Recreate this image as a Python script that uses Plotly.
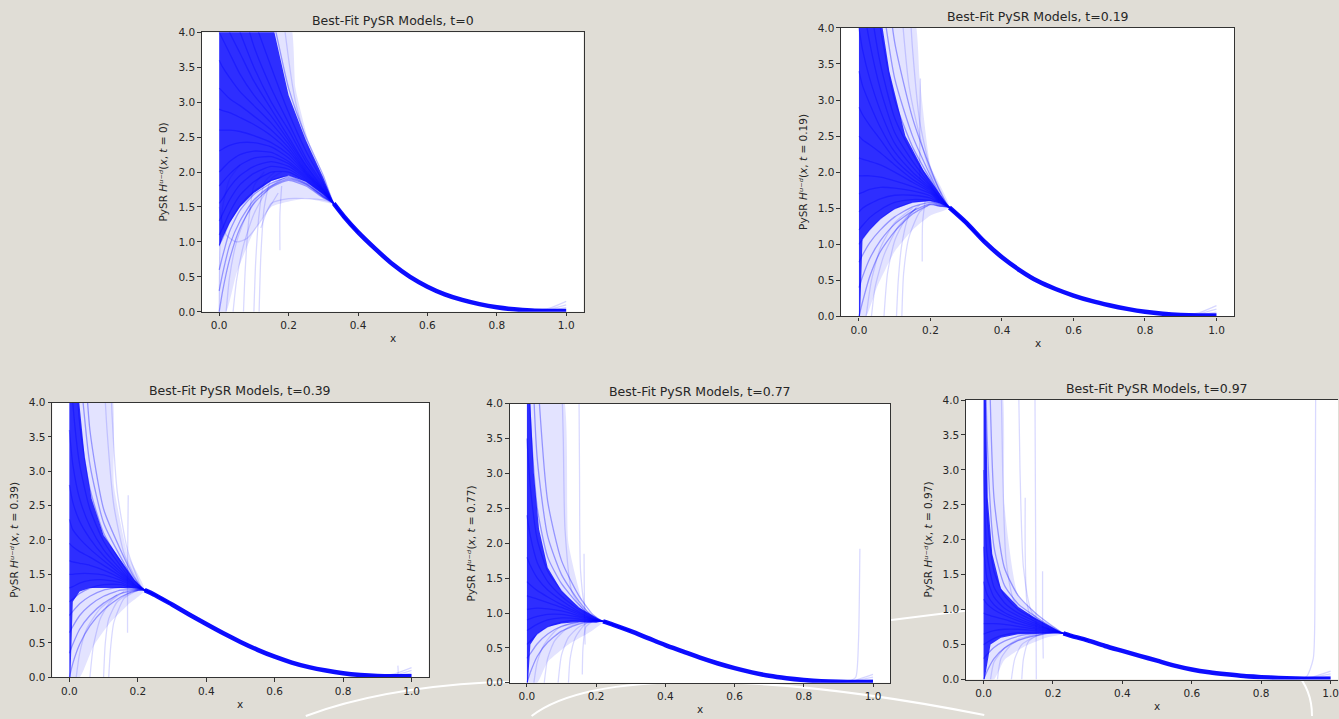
import plotly.graph_objects as go

# ---------------------------------------------------------------- data
T_VALUES = ["0", "0.19", "0.39", "0.77", "0.97"]
X_TICKS = [0.0, 0.2, 0.4, 0.6, 0.8, 1.0]
X_TICK_TEXT = ["0.0", "0.2", "0.4", "0.6", "0.8", "1.0"]
Y_TICKS = [0.0, 0.5, 1.0, 1.5, 2.0, 2.5, 3.0, 3.5, 4.0]
Y_TICK_TEXT = ["0.0", "0.5", "1.0", "1.5", "2.0", "2.5", "3.0", "3.5", "4.0"]

# ---- panel 1 : t = 0
P1_TAIL_X = [0.33, 0.36, 0.4, 0.45, 0.5, 0.55, 0.6, 0.65, 0.7, 0.75, 0.8, 0.85, 0.9, 0.95, 1.0]
P1_TAIL_Y = [1.55, 1.36, 1.14, 0.90, 0.68, 0.50, 0.36, 0.25, 0.17, 0.11, 0.065, 0.035, 0.018, 0.012, 0.012]
P1_FAN_X = [0, 0.01, 0.03, 0.06, 0.1, 0.15, 0.2, 0.25, 0.3]
P1_FAN_Y = [
    [8, 7.5, 7, 6.2, 5.2, 4.3, 3.2, 2.5, 1.95],
    [7, 6.6, 6, 5, 4.2, 3.5, 2.85, 2.3, 1.85],
    [6, 5.6, 5.1, 4.5, 3.8, 3.2, 2.7, 2.2, 1.82],
    [5, 4.7, 4.4, 4.0, 3.5, 3.0, 2.6, 2.15, 1.8],
    [4.5, 4.3, 4.0, 3.7, 3.3, 2.9, 2.5, 2.1, 1.78],
    [4.0, 3.9, 3.7, 3.4, 3.1, 2.8, 2.45, 2.08, 1.76],
    [3.6, 3.5, 3.35, 3.15, 2.95, 2.7, 2.4, 2.05, 1.75],
    [3.2, 3.15, 3.05, 2.95, 2.8, 2.6, 2.35, 2.02, 1.74],
    [2.9, 2.88, 2.85, 2.78, 2.68, 2.52, 2.3, 2.0, 1.73],
    [2.6, 2.6, 2.6, 2.58, 2.52, 2.42, 2.25, 1.98, 1.72],
    [2.3, 2.33, 2.38, 2.42, 2.42, 2.36, 2.2, 1.96, 1.71],
    [2.0, 2.05, 2.15, 2.25, 2.3, 2.28, 2.15, 1.94, 1.7],
    [1.8, 1.86, 1.97, 2.1, 2.2, 2.22, 2.12, 1.92, 1.69],
    [1.55, 1.62, 1.78, 1.95, 2.08, 2.15, 2.08, 1.9, 1.68],
    [1.3, 1.4, 1.6, 1.82, 1.98, 2.08, 2.04, 1.88, 1.67],
    [1.1, 1.2, 1.42, 1.67, 1.86, 2.0, 2.0, 1.86, 1.66],
    [0.95, 1.05, 1.28, 1.52, 1.72, 1.88, 1.94, 1.84, 1.65],
    [0.6, 0.8, 1.15, 1.45, 1.68, 1.84, 1.92, 1.83, 1.65],
    [0.3, 0.55, 0.95, 1.3, 1.6, 1.8, 1.9, 1.82, 1.64],
    [0.0, 0.3, 0.75, 1.2, 1.55, 1.78, 1.88, 1.8, 1.63],
]
P1_CORE_X = [0, 0.15, 0.2, 0.25, 0.3, 0.33, 0.3, 0.25, 0.2, 0.15, 0.1, 0.06, 0.03, 0.01, 0]
P1_CORE_Y = [4.2, 4.2, 3.1, 2.45, 1.92, 1.55, 1.68, 1.86, 1.95, 1.87, 1.7, 1.5, 1.27, 1.06, 0.93]
P1_WASH_X = [0, 0.2, 0.22, 0.26, 0.3, 0.33, 0.25, 0.15, 0.1, 0.05, 0.02, 0]
P1_WASH_Y = [4.2, 4.2, 3.2, 2.4, 1.9, 1.55, 1.62, 1.5, 1.15, 0.55, 0, 0]
P1_FAINT_X = [
    [0.07, 0.075, 0.085, 0.1, 0.13],
    [0.1, 0.105, 0.115, 0.13, 0.16],
    [0.115, 0.12, 0.13, 0.15, 0.18],
    [0.175, 0.175, 0.18],
    [0.12, 0.15, 0.2, 0.25, 0.3, 0.33],
    [0.0, 0.02, 0.05, 0.08, 0.12, 0.17],
    [0.17, 0.19, 0.22, 0.26, 0.3, 0.33],
    [0.02, 0.03, 0.05, 0.08, 0.12, 0.18],
    [0.04, 0.05, 0.07, 0.1, 0.14, 0.2],
    [0.0, 0.002, 0.01, 0.03, 0.06],
]
P1_FAINT_Y = [
    [0, 0.6, 1.3, 1.8, 2.0],
    [0, 0.7, 1.4, 1.85, 2.0],
    [0, 0.8, 1.5, 1.9, 2.0],
    [0.88, 1.4, 1.8],
    [1.2, 1.55, 1.62, 1.62, 1.6, 1.55],
    [1.5, 1.1, 1.0, 1.05, 1.3, 1.7],
    [5, 4, 3.0, 2.3, 1.85, 1.55],
    [0, 0.5, 1.0, 1.4, 1.7, 1.9],
    [0, 0.45, 0.95, 1.4, 1.75, 1.95],
    [0, 0.9, 1.5, 1.9, 2.1],
]
P1_END_X = [0.85, 0.9, 0.95, 1.0]
P1_END_Y = [[0.035, 0.02, 0.05, 0.15], [0.035, 0.02, 0.035, 0.1], [0.035, 0.02, 0.025, 0.06]]

# ---- panel 2 : t = 0.19
P2_TAIL_X = [0.253, 0.3, 0.35, 0.4, 0.45, 0.5, 0.55, 0.6, 0.65, 0.7, 0.75, 0.8, 0.85, 0.9, 0.95, 1.0]
P2_TAIL_Y = [1.51, 1.3, 1.04, 0.82, 0.64, 0.49, 0.38, 0.29, 0.215, 0.155, 0.105, 0.065, 0.037, 0.02, 0.013, 0.013]
P2_FAN_X = [0, 0.01, 0.03, 0.06, 0.1, 0.15, 0.2, 0.225]
P2_FAN_Y = [
    [9, 8.5, 7.5, 5.5, 3.8, 2.75, 2.05, 1.75],
    [8, 7.5, 6.5, 4.6, 3.3, 2.5, 1.95, 1.7],
    [7, 6.5, 5.2, 4.0, 3.0, 2.35, 1.9, 1.68],
    [6, 5.2, 4.4, 3.5, 2.75, 2.25, 1.85, 1.66],
    [4.8, 4.4, 3.8, 3.15, 2.55, 2.15, 1.82, 1.65],
    [4.0, 3.7, 3.3, 2.85, 2.4, 2.07, 1.8, 1.64],
    [3.4, 3.2, 2.95, 2.62, 2.28, 2.0, 1.78, 1.63],
    [2.9, 2.8, 2.65, 2.45, 2.18, 1.95, 1.76, 1.62],
    [2.5, 2.45, 2.38, 2.27, 2.1, 1.9, 1.74, 1.61],
    [2.2, 2.18, 2.15, 2.1, 2.0, 1.86, 1.72, 1.6],
    [1.95, 1.95, 1.95, 1.93, 1.88, 1.8, 1.7, 1.59],
    [1.7, 1.72, 1.76, 1.79, 1.78, 1.74, 1.67, 1.58],
    [1.45, 1.5, 1.56, 1.63, 1.68, 1.68, 1.64, 1.57],
    [1.2, 1.26, 1.37, 1.48, 1.58, 1.62, 1.61, 1.56],
    [1.0, 1.07, 1.2, 1.35, 1.49, 1.58, 1.6, 1.55],
    [0.75, 0.85, 1.02, 1.2, 1.38, 1.52, 1.58, 1.54],
    [0.4, 0.55, 0.8, 1.05, 1.28, 1.46, 1.56, 1.53],
    [0.0, 0.2, 0.55, 0.9, 1.18, 1.42, 1.55, 1.53],
]
P2_CORE_X = [0, 0.06, 0.085, 0.13, 0.18, 0.225, 0.253, 0.225, 0.2, 0.15, 0.1, 0.06, 0.03, 0.01, 0.003, 0]
P2_CORE_Y = [4.2, 4.2, 3.4, 2.5, 2.03, 1.71, 1.51, 1.57, 1.6, 1.58, 1.49, 1.35, 1.2, 1.07, 0.0, 0.0]
P2_WASH_X = [0, 0.15, 0.17, 0.2, 0.253, 0.2, 0.15, 0.1, 0.05, 0.02, 0]
P2_WASH_Y = [4.2, 4.2, 3.3, 2.1, 1.51, 1.4, 1.2, 0.9, 0.4, 0, 0]
P2_FAINT_X = [
    [0.07, 0.08, 0.1, 0.13, 0.16],
    [0.105, 0.11, 0.12, 0.14, 0.17],
    [0.12, 0.125, 0.14, 0.17, 0.2],
    [0.177, 0.178, 0.185],
    [0.17, 0.17, 0.172],
    [0.12, 0.14, 0.17, 0.2, 0.23],
    [0.14, 0.15, 0.17, 0.2, 0.25],
    [0.02, 0.035, 0.06, 0.1, 0.15],
    [0.035, 0.045, 0.07, 0.11, 0.16],
]
P2_FAINT_Y = [
    [0, 0.6, 1.05, 1.35, 1.5],
    [0, 0.5, 1.0, 1.4, 1.55],
    [0, 0.6, 1.1, 1.45, 1.56],
    [0.76, 1.3, 1.6],
    [1.9, 2.6, 3.3],
    [4.2, 3.2, 2.5, 2.0, 1.7],
    [4.5, 3.7, 2.7, 2.05, 1.51],
    [0, 0.5, 0.95, 1.3, 1.5],
    [0, 0.4, 0.85, 1.25, 1.5],
]
P2_END_X = [0.85, 0.9, 0.95, 1.0]
P2_END_Y = [[0.037, 0.02, 0.05, 0.15], [0.037, 0.02, 0.035, 0.1], [0.037, 0.02, 0.025, 0.06]]

# ---- panel 3 : t = 0.39
P3_TAIL_X = [0.22, 0.25, 0.3, 0.35, 0.4, 0.45, 0.5, 0.55, 0.6, 0.65, 0.7, 0.75, 0.8, 0.85, 0.9, 0.95, 1.0]
P3_TAIL_Y = [1.27, 1.2, 1.06, 0.915, 0.775, 0.64, 0.515, 0.4, 0.3, 0.215, 0.148, 0.098, 0.06, 0.035, 0.02, 0.015, 0.015]
P3_FAN_X = [0, 0.01, 0.03, 0.06, 0.1, 0.15, 0.19]
P3_FAN_Y = [
    [9, 8, 6, 3.6, 2.45, 1.85, 1.45],
    [8, 7, 4.6, 3.1, 2.25, 1.75, 1.42],
    [7, 5.5, 3.7, 2.75, 2.1, 1.68, 1.4],
    [5, 4.0, 3.1, 2.45, 1.98, 1.62, 1.38],
    [3.6, 3.1, 2.6, 2.2, 1.86, 1.57, 1.36],
    [2.8, 2.55, 2.27, 2.02, 1.77, 1.53, 1.35],
    [2.3, 2.15, 2.02, 1.87, 1.7, 1.5, 1.34],
    [1.95, 1.9, 1.83, 1.75, 1.63, 1.47, 1.33],
    [1.7, 1.68, 1.66, 1.63, 1.56, 1.44, 1.32],
    [1.5, 1.5, 1.51, 1.51, 1.49, 1.41, 1.31],
    [1.3, 1.32, 1.37, 1.41, 1.42, 1.38, 1.3],
    [1.1, 1.14, 1.22, 1.3, 1.35, 1.35, 1.29],
    [0.9, 0.96, 1.07, 1.18, 1.27, 1.31, 1.28],
    [0.65, 0.74, 0.9, 1.05, 1.18, 1.27, 1.27],
    [0.35, 0.48, 0.7, 0.9, 1.08, 1.22, 1.26],
    [0.0, 0.2, 0.48, 0.75, 0.98, 1.17, 1.25],
]
P3_CORE_X = [0, 0.025, 0.045, 0.065, 0.1, 0.15, 0.19, 0.22, 0.19, 0.15, 0.1, 0.06, 0.03, 0.01, 0.003, 0]
P3_CORE_Y = [4.2, 4.2, 3.2, 2.6, 2.07, 1.7, 1.42, 1.27, 1.3, 1.3, 1.3, 1.3, 1.25, 1.1, 0.0, 0.0]
P3_WASH_X = [0, 0.12, 0.13, 0.17, 0.22, 0.17, 0.12, 0.07, 0.03, 0]
P3_WASH_Y = [4.2, 4.2, 2.8, 1.8, 1.27, 1.05, 0.8, 0.45, 0, 0]
P3_FAINT_X = [
    [0.17, 0.17, 0.172],
    [0.06, 0.07, 0.09, 0.12, 0.16],
    [0.1, 0.105, 0.115, 0.14, 0.18],
    [0.115, 0.12, 0.13, 0.16, 0.2],
    [0.1, 0.11, 0.13, 0.16, 0.2],
    [0.12, 0.125, 0.14, 0.17, 0.21],
    [0.02, 0.03, 0.05, 0.09, 0.14],
    [0.95, 0.96, 0.96],
]
P3_FAINT_Y = [
    [0.65, 1.6, 2.65],
    [0, 0.45, 0.85, 1.1, 1.25],
    [0, 0.5, 0.85, 1.1, 1.24],
    [0, 0.4, 0.8, 1.15, 1.27],
    [4.5, 3.6, 2.5, 1.8, 1.38],
    [4.5, 3.8, 2.7, 1.85, 1.3],
    [0, 0.35, 0.7, 1.0, 1.2],
    [0.02, 0.05, 0.17],
]
P3_END_X = [0.85, 0.9, 0.95, 1.0]
P3_END_Y = [[0.035, 0.02, 0.05, 0.14], [0.035, 0.02, 0.03, 0.1], [0.035, 0.02, 0.02, 0.06]]

# ---- panel 4 : t = 0.77
P4_TAIL_X = [0.22, 0.25, 0.3, 0.35, 0.4, 0.45, 0.5, 0.55, 0.6, 0.65, 0.7, 0.75, 0.8, 0.85, 0.9, 0.95, 1.0]
P4_TAIL_Y = [0.88, 0.83, 0.74, 0.64, 0.54, 0.45, 0.36, 0.28, 0.21, 0.15, 0.1, 0.065, 0.04, 0.022, 0.014, 0.012, 0.012]
P4_FAN_X = [0, 0.01, 0.03, 0.06, 0.1, 0.15, 0.19]
P4_FAN_Y = [
    [9, 8, 4.5, 2.6, 1.75, 1.25, 0.98],
    [8, 5.5, 3.2, 2.1, 1.55, 1.17, 0.95],
    [6, 3.8, 2.5, 1.8, 1.42, 1.12, 0.94],
    [3.5, 2.8, 2.05, 1.6, 1.32, 1.08, 0.93],
    [2.4, 2.1, 1.72, 1.45, 1.24, 1.05, 0.92],
    [1.8, 1.68, 1.5, 1.33, 1.18, 1.02, 0.915],
    [1.45, 1.4, 1.32, 1.23, 1.12, 1.0, 0.91],
    [1.25, 1.23, 1.2, 1.15, 1.08, 0.98, 0.905],
    [1.05, 1.06, 1.07, 1.06, 1.03, 0.96, 0.9],
    [0.9, 0.92, 0.95, 0.98, 0.98, 0.94, 0.895],
    [0.75, 0.78, 0.84, 0.9, 0.93, 0.92, 0.89],
    [0.55, 0.6, 0.7, 0.8, 0.87, 0.9, 0.885],
    [0.35, 0.42, 0.56, 0.7, 0.81, 0.87, 0.88],
    [0.0, 0.15, 0.38, 0.58, 0.74, 0.84, 0.875],
]
P4_CORE_X = [0, 0.008, 0.02, 0.035, 0.06, 0.1, 0.15, 0.2, 0.22, 0.2, 0.15, 0.1, 0.06, 0.03, 0.01, 0.003, 0]
P4_CORE_Y = [4.2, 4.2, 3.0, 2.2, 1.65, 1.32, 1.08, 0.93, 0.88, 0.86, 0.87, 0.85, 0.8, 0.7, 0.55, 0.0, 0.0]
P4_WASH_X = [0, 0.1, 0.12, 0.17, 0.22, 0.18, 0.12, 0.06, 0.03, 0]
P4_WASH_Y = [4.2, 4.2, 2.0, 1.05, 0.88, 0.72, 0.55, 0.3, 0, 0]
P4_FAINT_X = [
    [0.1, 0.105, 0.11, 0.13, 0.17],
    [0.15, 0.152, 0.155, 0.17, 0.2],
    [0.165, 0.166, 0.168],
    [0.16, 0.162, 0.17, 0.19],
    [0.05, 0.06, 0.08, 0.12, 0.17],
    [0.09, 0.1, 0.12, 0.15, 0.19],
    [0.12, 0.125, 0.14, 0.17, 0.2],
    [0.02, 0.03, 0.05, 0.09, 0.15],
    [0.93, 0.95, 0.958, 0.962],
]
P4_FAINT_Y = [
    [4.5, 3.5, 2.2, 1.3, 1.0],
    [4.5, 3.0, 1.6, 1.05, 0.93],
    [1.85, 1.2, 0.55],
    [0.12, 0.5, 0.8, 0.88],
    [0, 0.35, 0.6, 0.8, 0.88],
    [0, 0.4, 0.65, 0.8, 0.88],
    [0, 0.35, 0.65, 0.85, 0.9],
    [0, 0.3, 0.55, 0.78, 0.87],
    [0.02, 0.08, 0.6, 1.92],
]
P4_END_X = [0.85, 0.9, 0.95, 1.0]
P4_END_Y = [[0.022, 0.014, 0.04, 0.12], [0.022, 0.014, 0.03, 0.08], [0.022, 0.014, 0.02, 0.05]]

# ---- panel 5 : t = 0.97
P5_TAIL_X = [0.23, 0.25, 0.3, 0.35, 0.4, 0.45, 0.5, 0.55, 0.6, 0.65, 0.7, 0.75, 0.8, 0.85, 0.9, 0.95, 1.0]
P5_TAIL_Y = [0.66, 0.63, 0.56, 0.48, 0.41, 0.34, 0.27, 0.2, 0.145, 0.105, 0.075, 0.05, 0.035, 0.022, 0.015, 0.012, 0.012]
P5_FAN_X = [0, 0.01, 0.03, 0.06, 0.1, 0.15, 0.2]
P5_FAN_Y = [
    [9, 6, 2.6, 1.6, 1.2, 0.95, 0.76],
    [8, 3.5, 1.9, 1.35, 1.08, 0.9, 0.74],
    [6, 2.4, 1.55, 1.2, 1.0, 0.86, 0.73],
    [3, 1.8, 1.32, 1.1, 0.95, 0.83, 0.72],
    [1.9, 1.45, 1.18, 1.02, 0.91, 0.8, 0.71],
    [1.4, 1.22, 1.07, 0.96, 0.87, 0.78, 0.705],
    [1.15, 1.08, 1.0, 0.92, 0.84, 0.76, 0.7],
    [0.95, 0.93, 0.9, 0.86, 0.8, 0.74, 0.695],
    [0.8, 0.8, 0.8, 0.79, 0.76, 0.72, 0.69],
    [0.65, 0.67, 0.7, 0.72, 0.72, 0.7, 0.685],
    [0.5, 0.53, 0.59, 0.64, 0.67, 0.68, 0.68],
    [0.3, 0.36, 0.46, 0.55, 0.62, 0.66, 0.675],
    [0.0, 0.12, 0.3, 0.45, 0.56, 0.63, 0.67],
]
P5_CORE_X = [0, 0.006, 0.012, 0.025, 0.05, 0.1, 0.15, 0.2, 0.23, 0.2, 0.15, 0.1, 0.05, 0.02, 0.003, 0]
P5_CORE_Y = [4.2, 4.2, 2.6, 1.8, 1.3, 1.04, 0.88, 0.74, 0.66, 0.66, 0.65, 0.65, 0.6, 0.5, 0.0, 0.0]
P5_WASH_X = [0, 0.05, 0.06, 0.1, 0.17, 0.23, 0.18, 0.12, 0.06, 0.03, 0]
P5_WASH_Y = [4.2, 4.2, 2.5, 1.2, 0.85, 0.66, 0.6, 0.48, 0.28, 0, 0]
P5_FAINT_X = [
    [0.148, 0.15, 0.152],
    [0.17, 0.17, 0.172],
    [0.12, 0.12, 0.125, 0.14, 0.19],
    [0.1, 0.105, 0.115, 0.14, 0.19],
    [0.05, 0.055, 0.065, 0.09, 0.15],
    [0.04, 0.05, 0.08, 0.12, 0.18],
    [0.08, 0.09, 0.11, 0.15, 0.2],
    [0.11, 0.115, 0.13, 0.17, 0.21],
    [0.02, 0.03, 0.06, 0.1, 0.16],
    [0.9, 0.93, 0.95, 0.955, 0.957],
]
P5_FAINT_Y = [
    [4.2, 2.0, 0.0],
    [1.55, 0.9, 0.3],
    [2.6, 1.8, 1.1, 0.85, 0.72],
    [4.5, 3.0, 1.6, 0.95, 0.73],
    [4.5, 3.0, 1.7, 1.1, 0.85],
    [0, 0.3, 0.5, 0.6, 0.67],
    [0, 0.3, 0.5, 0.62, 0.68],
    [0, 0.3, 0.55, 0.66, 0.67],
    [0, 0.25, 0.45, 0.58, 0.66],
    [0.015, 0.04, 0.3, 1.5, 4.2],
]
P5_END_X = [0.85, 0.9, 0.95, 1.0]
P5_END_Y = [[0.022, 0.015, 0.04, 0.12], [0.022, 0.015, 0.03, 0.08], [0.022, 0.015, 0.02, 0.05]]

# ---------------------------------------------------------------- layout (pixels)
W, H = 1339, 719
BG = "#e0ddd6"
TEXT = "#262626"
FONT = "DejaVu Sans"
BLUE = "0,0,255"

PANELS = [
    dict(data=(P1_FAN_X, P1_FAN_Y, P1_TAIL_X, P1_TAIL_Y, P1_CORE_X, P1_CORE_Y, P1_WASH_X, P1_WASH_Y,
               P1_FAINT_X, P1_FAINT_Y, P1_END_X, P1_END_Y),
         L=202, R=584, T=26.7, B=311, xr=[-0.05, 1.05], right=True),
    dict(data=(P2_FAN_X, P2_FAN_Y, P2_TAIL_X, P2_TAIL_Y, P2_CORE_X, P2_CORE_Y, P2_WASH_X, P2_WASH_Y,
               P2_FAINT_X, P2_FAINT_Y, P2_END_X, P2_END_Y),
         L=841.7, R=1235.3, T=22.3, B=315.7, xr=[-0.05, 1.05], right=True),
    dict(data=(P3_FAN_X, P3_FAN_Y, P3_TAIL_X, P3_TAIL_Y, P3_CORE_X, P3_CORE_Y, P3_WASH_X, P3_WASH_Y,
               P3_FAINT_X, P3_FAINT_Y, P3_END_X, P3_END_Y),
         L=52.3, R=429, T=403.3, B=682.7, xr=[-0.05, 1.05], right=True),
    dict(data=(P4_FAN_X, P4_FAN_Y, P4_TAIL_X, P4_TAIL_Y, P4_CORE_X, P4_CORE_Y, P4_WASH_X, P4_WASH_Y,
               P4_FAINT_X, P4_FAINT_Y, P4_END_X, P4_END_Y),
         L=510, R=891, T=404.3, B=688.3, xr=[-0.05, 1.05], right=True),
    dict(data=(P5_FAN_X, P5_FAN_Y, P5_TAIL_X, P5_TAIL_Y, P5_CORE_X, P5_CORE_Y, P5_WASH_X, P5_WASH_Y,
               P5_FAINT_X, P5_FAINT_Y, P5_END_X, P5_END_Y),
         L=966.7, R=1339, T=400.7, B=685, xr=[-0.0507, 1.0213], right=False),
]


def px(x):
    return x / W


def py(y):
    return 1 - y / H


fig = go.Figure()
annotations = []
layout_axes = {}

for i, p in enumerate(PANELS, start=1):
    (fan_x, fan_y, tail_x, tail_y, core_x, core_y, wash_x, wash_y,
     faint_x, faint_y, end_x, end_y) = p["data"]
    xa, ya = f"x{i}", f"y{i}"
    common = dict(xaxis=xa, yaxis=ya, mode="lines", hoverinfo="skip", showlegend=False)
    # light wash where only a few curves pass
    fig.add_trace(go.Scatter(x=wash_x, y=wash_y, fill="toself", fillcolor=f"rgba({BLUE},0.11)",
                             line=dict(width=0, shape="spline", smoothing=0.5), **common))
    # dense core of the overlapping curves
    fig.add_trace(go.Scatter(x=core_x, y=core_y, fill="toself", fillcolor=f"rgba({BLUE},0.8)",
                             line=dict(width=0), **common))
    # individual fitted curves
    for ys in fan_y:
        fig.add_trace(go.Scatter(x=fan_x + tail_x[:3], y=ys + tail_y[:3],
                                 line=dict(color=f"rgba({BLUE},0.35)", width=1.3, shape="spline", smoothing=0.6),
                                 **common))
    for fx, fy in zip(faint_x, faint_y):
        fig.add_trace(go.Scatter(x=fx, y=fy,
                                 line=dict(color=f"rgba({BLUE},0.15)", width=1.3, shape="spline", smoothing=0.6),
                                 **common))
    for ey in end_y:
        fig.add_trace(go.Scatter(x=end_x, y=ey,
                                 line=dict(color=f"rgba({BLUE},0.16)", width=1.3, shape="spline", smoothing=0.6),
                                 **common))
    # converged bundle
    fig.add_trace(go.Scatter(x=tail_x, y=tail_y,
                             line=dict(color=f"rgba({BLUE},0.95)", width=4.5, shape="spline", smoothing=0.8),
                             **common))

    sfx = "" if i == 1 else str(i)
    layout_axes[f"xaxis{sfx}"] = dict(
        domain=[px(p["L"]), min(px(p["R"]), 1.0)], range=p["xr"], anchor=ya,
        tickvals=X_TICKS, ticktext=X_TICK_TEXT, ticks="outside", ticklen=3.5, tickwidth=1,
        tickcolor="#333", showline=True, linecolor="#333", linewidth=1.2, mirror=True,
        showgrid=False, zeroline=False, tickfont=dict(family=FONT, size=10.5, color=TEXT),
        ticklabeloverflow="allow", fixedrange=True)
    layout_axes[f"yaxis{sfx}"] = dict(
        domain=[py(p["B"]), py(p["T"])], range=[0, 4], anchor=xa,
        tickvals=Y_TICKS, ticktext=Y_TICK_TEXT, ticks="outside", ticklen=3.5, tickwidth=1,
        tickcolor="#333", showline=True, linecolor="#333", linewidth=1.2, mirror=p["right"],
        showgrid=False, zeroline=False, tickfont=dict(family=FONT, size=10.5, color=TEXT),
        ticklabeloverflow="allow", fixedrange=True)

    x0 = p["L"] + (0 - p["xr"][0]) / (p["xr"][1] - p["xr"][0]) * (p["R"] - p["L"])
    x1 = p["L"] + (1 - p["xr"][0]) / (p["xr"][1] - p["xr"][0]) * (p["R"] - p["L"])
    xmid = x0 + 0.5 * (x1 - x0)
    t = T_VALUES[i - 1]
    annotations.append(dict(text=f"Best-Fit PySR Models, t={t}", x=px(xmid), y=py(p["T"] - 12),
                            xref="paper", yref="paper", showarrow=False, xanchor="center", yanchor="middle",
                            font=dict(family=FONT, size=12.5, color=TEXT)))
    annotations.append(dict(text="x", x=px(xmid), y=py(p["B"] + 27), xref="paper", yref="paper",
                            showarrow=False, xanchor="center", yanchor="middle",
                            font=dict(family=FONT, size=10.5, color=TEXT)))
    annotations.append(dict(
        text=f"PySR <i>H\u1d58\u207b\u1d48</i>(<i>x</i>, <i>t</i> = {t})",
        x=px(p["L"] - 38.4), y=py((p["T"] + p["B"]) / 2), xref="paper", yref="paper",
        showarrow=False, xanchor="center", yanchor="middle", textangle=-90,
        font=dict(family=FONT, size=10.5, color=TEXT)))


def path(cmds):
    out = []
    for c in cmds:
        if isinstance(c, str):
            out.append(c)
        else:
            out.append(f"{px(c[0]):.5f},{py(c[1]):.5f}")
    return " ".join(out)


arcs = [
    ["M", (306, 722), "Q", (380, 694), (487, 688), "L", (560, 686)],
    ["M", (532, 722), "C", (590, 676), (760, 676), (985, 721)],
    ["M", (880, 626), "L", (990, 612)],
    ["M", (1296, 677), "Q", (1313, 695), (1313, 722)],
]
shapes = [dict(type="path", path=path(a), xref="paper", yref="paper", layer="below",
               line=dict(color="white", width=2)) for a in arcs]

fig.update_layout(
    width=W, height=H, margin=dict(l=0, r=0, t=0, b=0),
    paper_bgcolor=BG, plot_bgcolor="white", showlegend=False,
    annotations=annotations, shapes=shapes, **layout_axes,
)

fig.write_html("out.html")
